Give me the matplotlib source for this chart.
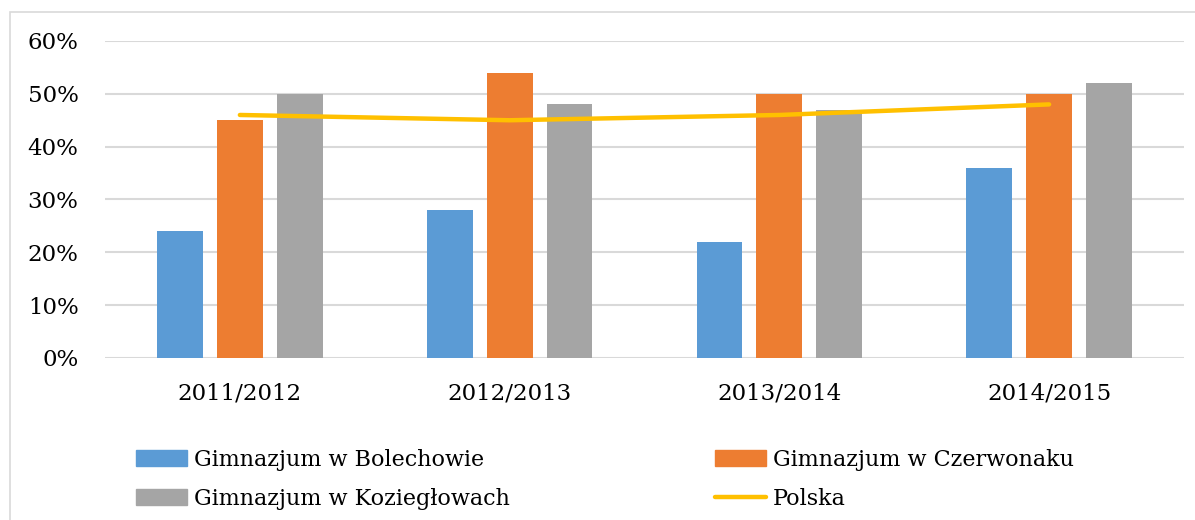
import numpy as np
import matplotlib
matplotlib.use('Agg')
import matplotlib.pyplot as plt
import matplotlib.patches as mpatches
import matplotlib.lines as lines
from matplotlib.ticker import FuncFormatter

# dane
lata = ['2011/2012', '2012/2013', '2013/2014', '2014/2015']
bolechowo = [24, 28, 22, 36]
czerwonak = [45, 54, 50, 50]
kozieglowy = [50, 48, 47, 52]
polska = [46, 45, 46, 48]

nazwy = ['Gimnazjum w Bolechowie', 'Gimnazjum w Czerwonaku',
         'Gimnazjum w Koziegłowach', 'Polska']
kolory = ['#5B9BD5', '#ED7D31', '#A5A5A5', '#FFC000']

plt.rcParams['font.family'] = ['DejaVu Serif']

fig = plt.figure(figsize=(11.95, 5.2), dpi=100)

# ramka wykresu
fig.patches.append(mpatches.Rectangle((10 / 1195, -0.05), 1.2, 0.977 + 0.05,
                                      transform=fig.transFigure, fill=False,
                                      edgecolor='#D9D9D9', lw=1.2, zorder=0))

ax = fig.add_axes([105 / 1195, 1 - 358 / 520, 1079 / 1195, 317 / 520])

x = np.arange(len(lata))
w = 0.17
off = 0.222
ax.bar(x - off, bolechowo, w, color=kolory[0], zorder=3)
ax.bar(x, czerwonak, w, color=kolory[1], zorder=3)
ax.bar(x + off, kozieglowy, w, color=kolory[2], zorder=3)
ax.plot(x, polska, color=kolory[3], lw=3.2, solid_capstyle='round', zorder=4)

ax.set_xlim(-0.5, len(lata) - 0.5)
ax.set_ylim(0, 60)
ax.set_yticks(range(0, 61, 10))
ax.yaxis.set_major_formatter(FuncFormatter(lambda v, p: '%d%%' % v))
ax.set_xticks(x)
ax.set_xticklabels(lata)
ax.tick_params(axis='both', length=0, labelsize=16.5, colors='black')
ax.tick_params(axis='y', pad=19)
ax.tick_params(axis='x', pad=18)
ax.grid(axis='y', color='#D9D9D9', lw=1.5, zorder=0)
for s in ax.spines.values():
    s.set_visible(False)

# legenda w dwóch kolumnach
h_bol = mpatches.Patch(color=kolory[0])
h_cze = mpatches.Patch(color=kolory[1])
h_koz = mpatches.Patch(color=kolory[2])
h_pol = lines.Line2D([], [], color=kolory[3], lw=3.2, solid_capstyle='round')

kw = dict(frameon=False, fontsize=16, handlelength=2.3, handletextpad=0.3,
          labelspacing=0.75, borderpad=0, borderaxespad=0, loc='upper left')
leg1 = fig.legend([h_bol, h_koz], [nazwy[0], nazwy[2]],
                  bbox_to_anchor=(136 / 1195, 1 - 449 / 520), **kw)
leg2 = fig.legend([h_cze, h_pol], [nazwy[1], nazwy[3]],
                  bbox_to_anchor=(715 / 1195, 1 - 449 / 520), **kw)

plt.savefig('out.png', dpi=100)
